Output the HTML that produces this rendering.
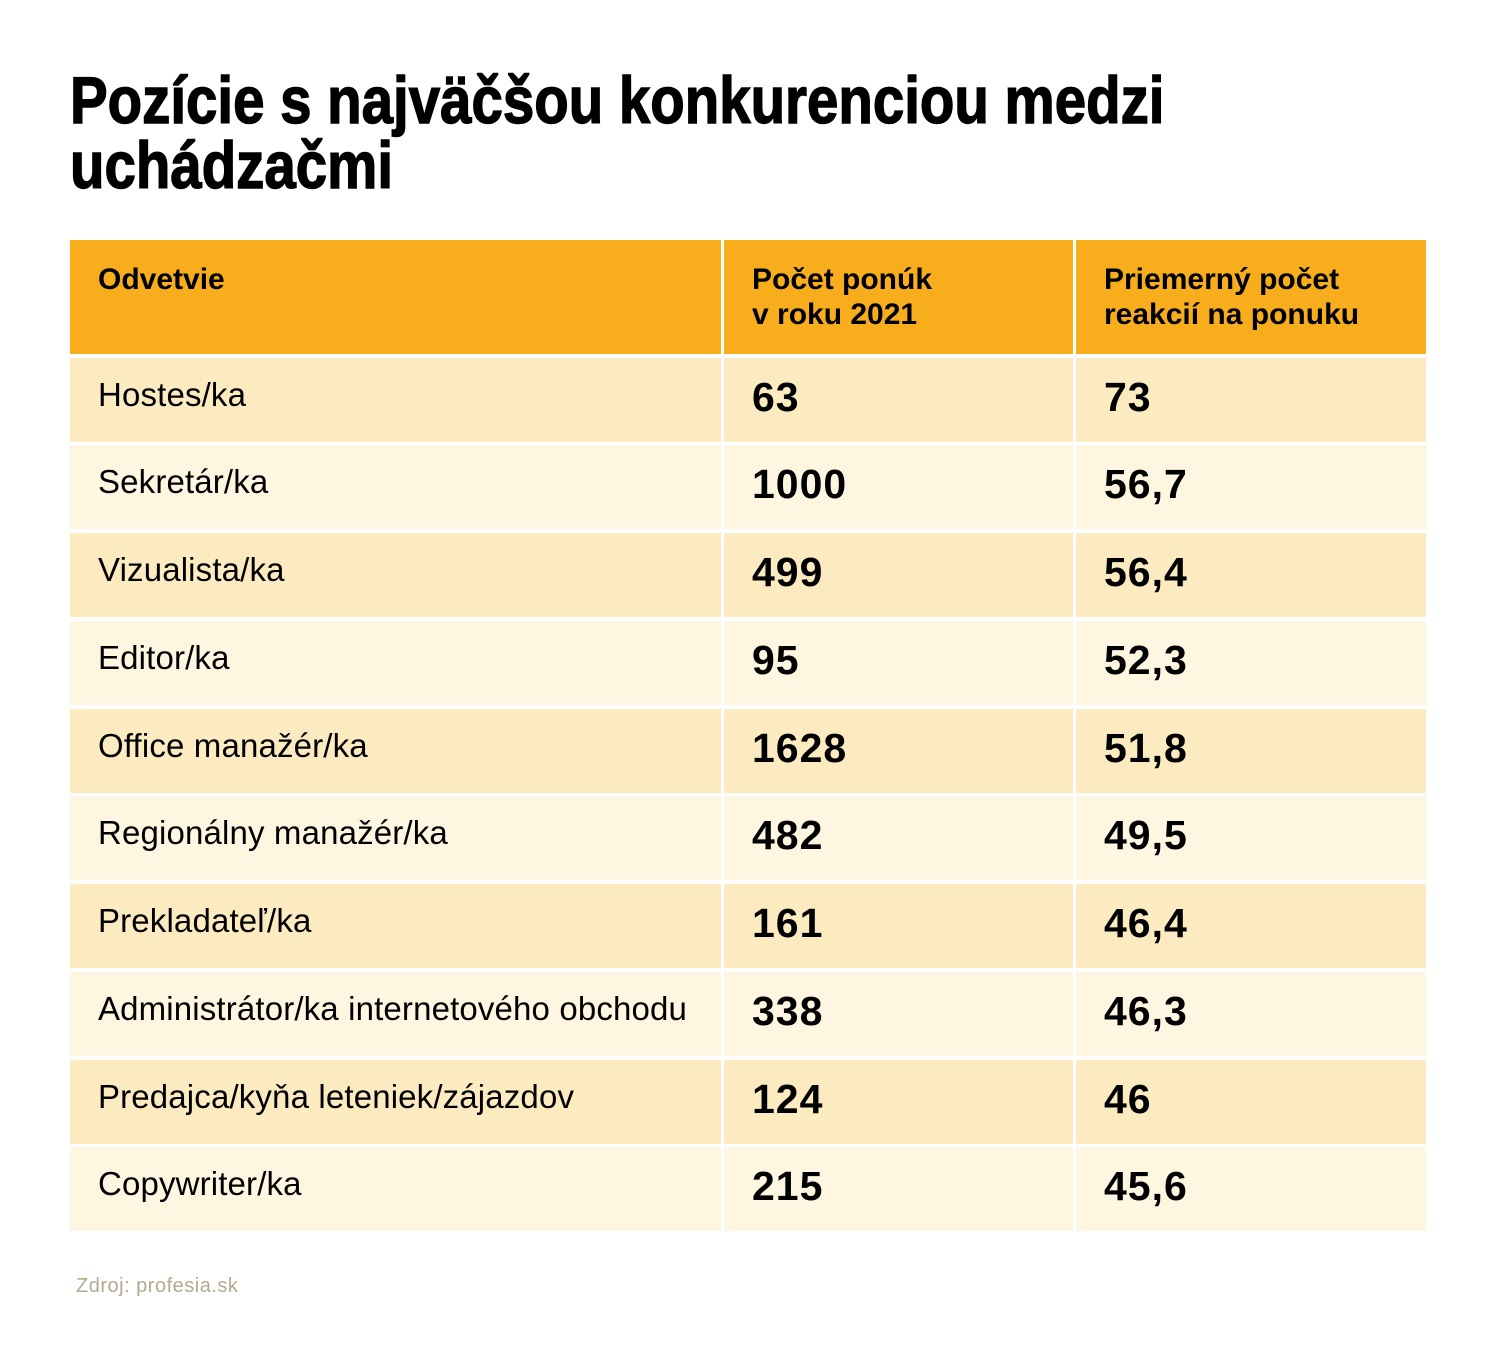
<!DOCTYPE html>
<html><head><meta charset="utf-8"><style>
html,body{margin:0;padding:0;background:#fff;}
body{width:1500px;height:1349px;position:relative;overflow:hidden;font-family:"Liberation Sans",Arial,sans-serif;color:#000;}
.t{position:absolute;white-space:nowrap;}
.title{font-weight:bold;font-size:66px;line-height:65px;left:70px;transform:scaleX(0.855);transform-origin:0 0;-webkit-text-stroke:1.4px #000;}
.c{position:absolute;height:84px;}
.h{position:absolute;background:#F8AE1C;top:240px;height:114px;}
.o{background:#FCEBC0;}
.e{background:#FFF6E1;}
.a{left:70px;width:651px;}
.b{left:724px;width:349px;}
.d{left:1076px;width:350px;}
.hd{font-weight:bold;font-size:30px;line-height:35px;top:262px;}
.nm{font-size:33px;line-height:33px;left:98px;letter-spacing:0.15px;}
.n1{font-weight:bold;font-size:41px;line-height:41px;left:752px;letter-spacing:1px;}
.n2{font-weight:bold;font-size:41px;line-height:41px;left:1104px;letter-spacing:1px;}
.src{font-size:20px;line-height:20px;color:#B5AA90;left:76px;top:1276px;letter-spacing:0.5px;}
</style></head><body>
<div class="t title" style="top:68px">Pozície s najväčšou konkurenciou medzi</div>
<div class="t title" style="top:133px">uchádzačmi</div>

<div class="h a"></div>
<div class="h b"></div>
<div class="h d"></div>
<div class="t hd" style="left:98px">Odvetvie</div>
<div class="t hd" style="left:752px">Počet ponúk<br>v roku 2021</div>
<div class="t hd" style="left:1104px">Priemerný počet<br>reakcií na ponuku</div>

<div class="c o a" style="top:358px"></div><div class="c o b" style="top:358px"></div><div class="c o d" style="top:358px"></div>
<div class="t nm" style="top:378px">Hostes/ka</div><div class="t n1" style="top:377px">63</div><div class="t n2" style="top:377px">73</div>

<div class="c e a" style="top:445px"></div><div class="c e b" style="top:445px"></div><div class="c e d" style="top:445px"></div>
<div class="t nm" style="top:465px">Sekretár/ka</div><div class="t n1" style="top:464px">1000</div><div class="t n2" style="top:464px">56,7</div>

<div class="c o a" style="top:533px"></div><div class="c o b" style="top:533px"></div><div class="c o d" style="top:533px"></div>
<div class="t nm" style="top:553px">Vizualista/ka</div><div class="t n1" style="top:552px">499</div><div class="t n2" style="top:552px">56,4</div>

<div class="c e a" style="top:621px"></div><div class="c e b" style="top:621px"></div><div class="c e d" style="top:621px"></div>
<div class="t nm" style="top:641px">Editor/ka</div><div class="t n1" style="top:640px">95</div><div class="t n2" style="top:640px">52,3</div>

<div class="c o a" style="top:709px"></div><div class="c o b" style="top:709px"></div><div class="c o d" style="top:709px"></div>
<div class="t nm" style="top:729px">Office manažér/ka</div><div class="t n1" style="top:728px">1628</div><div class="t n2" style="top:728px">51,8</div>

<div class="c e a" style="top:796px"></div><div class="c e b" style="top:796px"></div><div class="c e d" style="top:796px"></div>
<div class="t nm" style="top:816px">Regionálny manažér/ka</div><div class="t n1" style="top:815px">482</div><div class="t n2" style="top:815px">49,5</div>

<div class="c o a" style="top:884px"></div><div class="c o b" style="top:884px"></div><div class="c o d" style="top:884px"></div>
<div class="t nm" style="top:904px">Prekladateľ/ka</div><div class="t n1" style="top:903px">161</div><div class="t n2" style="top:903px">46,4</div>

<div class="c e a" style="top:972px"></div><div class="c e b" style="top:972px"></div><div class="c e d" style="top:972px"></div>
<div class="t nm" style="top:992px">Administrátor/ka internetového obchodu</div><div class="t n1" style="top:991px">338</div><div class="t n2" style="top:991px">46,3</div>

<div class="c o a" style="top:1060px"></div><div class="c o b" style="top:1060px"></div><div class="c o d" style="top:1060px"></div>
<div class="t nm" style="top:1080px">Predajca/kyňa leteniek/zájazdov</div><div class="t n1" style="top:1079px">124</div><div class="t n2" style="top:1079px">46</div>

<div class="c e a" style="top:1147px"></div><div class="c e b" style="top:1147px"></div><div class="c e d" style="top:1147px"></div>
<div class="t nm" style="top:1167px">Copywriter/ka</div><div class="t n1" style="top:1166px">215</div><div class="t n2" style="top:1166px">45,6</div>

<div class="t src">Zdroj: profesia.sk</div>
</body></html>
